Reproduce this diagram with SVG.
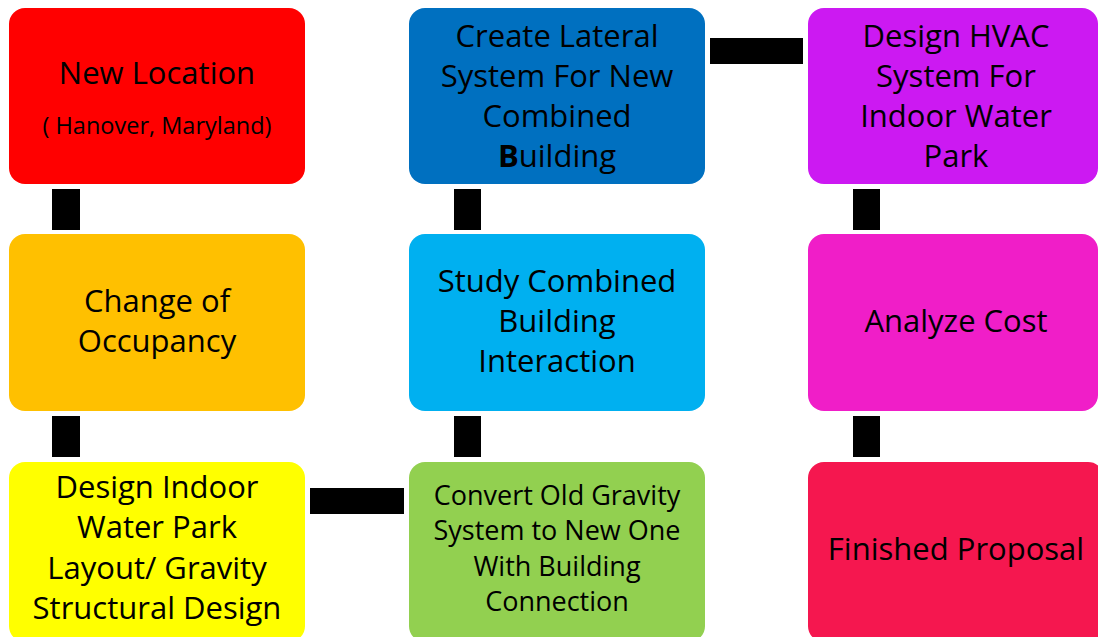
<svg xmlns="http://www.w3.org/2000/svg" width="1098" height="637" viewBox="0 0 1098 637">
<style>
.box{stroke:none}
.t{font-family:"Open Sans","Noto Sans","Liberation Sans",sans-serif;font-size:31px;fill:#000;text-anchor:middle}
.s{font-size:27px}
.xs{font-size:23.5px}
.bar{fill:#000}
</style>
<rect width="1098" height="637" fill="#fff"/>
<g id="connectors">
<rect class="bar" x="52" y="189" width="28" height="41"/>
<rect class="bar" x="52" y="416" width="28" height="41"/>
<rect class="bar" x="454" y="189" width="27" height="41"/>
<rect class="bar" x="454" y="416" width="27" height="41"/>
<rect class="bar" x="853" y="189" width="27" height="41"/>
<rect class="bar" x="853" y="416" width="27" height="41"/>
<rect class="bar" x="710" y="38" width="93" height="26"/>
<rect class="bar" x="310" y="488" width="94" height="26"/>
</g>
<g id="n1">
<rect class="box" x="9" y="8" width="296" height="176" rx="16" fill="#FF0000"/>
<text class="t" x="157" y="84">New Location</text>
<text class="t xs" x="157" y="134">( Hanover, Maryland)</text>
</g>
<g id="n2">
<rect class="box" x="9" y="234" width="296" height="177" rx="16" fill="#FFC000"/>
<text class="t" x="157" y="312">Change of</text>
<text class="t" x="157" y="352">Occupancy</text>
</g>
<g id="n3">
<rect class="box" x="9" y="462" width="296" height="180" rx="16" fill="#FFFF00"/>
<text class="t" x="157" y="498">Design Indoor</text>
<text class="t" x="157" y="538">Water Park</text>
<text class="t" x="157" y="579">Layout/ Gravity</text>
<text class="t" x="157" y="619">Structural Design</text>
</g>
<g id="n4">
<rect class="box" x="409" y="8" width="296" height="176" rx="16" fill="#0070C0"/>
<text class="t" x="557" y="47">Create Lateral</text>
<text class="t" x="557" y="87">System For New</text>
<text class="t" x="557" y="127">Combined</text>
<text class="t" x="557" y="167"><tspan font-weight="bold">B</tspan>uilding</text>
</g>
<g id="n5">
<rect class="box" x="409" y="234" width="296" height="177" rx="16" fill="#00B0F0"/>
<text class="t" x="557" y="292">Study Combined</text>
<text class="t" x="557" y="332">Building</text>
<text class="t" x="557" y="372">Interaction</text>
</g>
<g id="n6">
<rect class="box" x="409" y="462" width="296" height="180" rx="16" fill="#92D050"/>
<text class="t s" x="557" y="505">Convert Old Gravity</text>
<text class="t s" x="557" y="540">System to New One</text>
<text class="t s" x="557" y="576">With Building</text>
<text class="t s" x="557" y="611">Connection</text>
</g>
<g id="n7">
<rect class="box" x="808" y="8" width="290" height="176" rx="16" fill="#CC19F2"/>
<text class="t" x="956" y="47">Design HVAC</text>
<text class="t" x="956" y="87">System For</text>
<text class="t" x="956" y="127">Indoor Water</text>
<text class="t" x="956" y="167">Park</text>
</g>
<g id="n8">
<rect class="box" x="808" y="234" width="290" height="177" rx="16" fill="#F01EC8"/>
<text class="t" x="956" y="332">Analyze Cost</text>
</g>
<g id="n9">
<rect class="box" x="808" y="462" width="296" height="180" rx="16" fill="#F5174F"/>
<text class="t" x="956" y="560">Finished Proposal</text>
</g>
</svg>
